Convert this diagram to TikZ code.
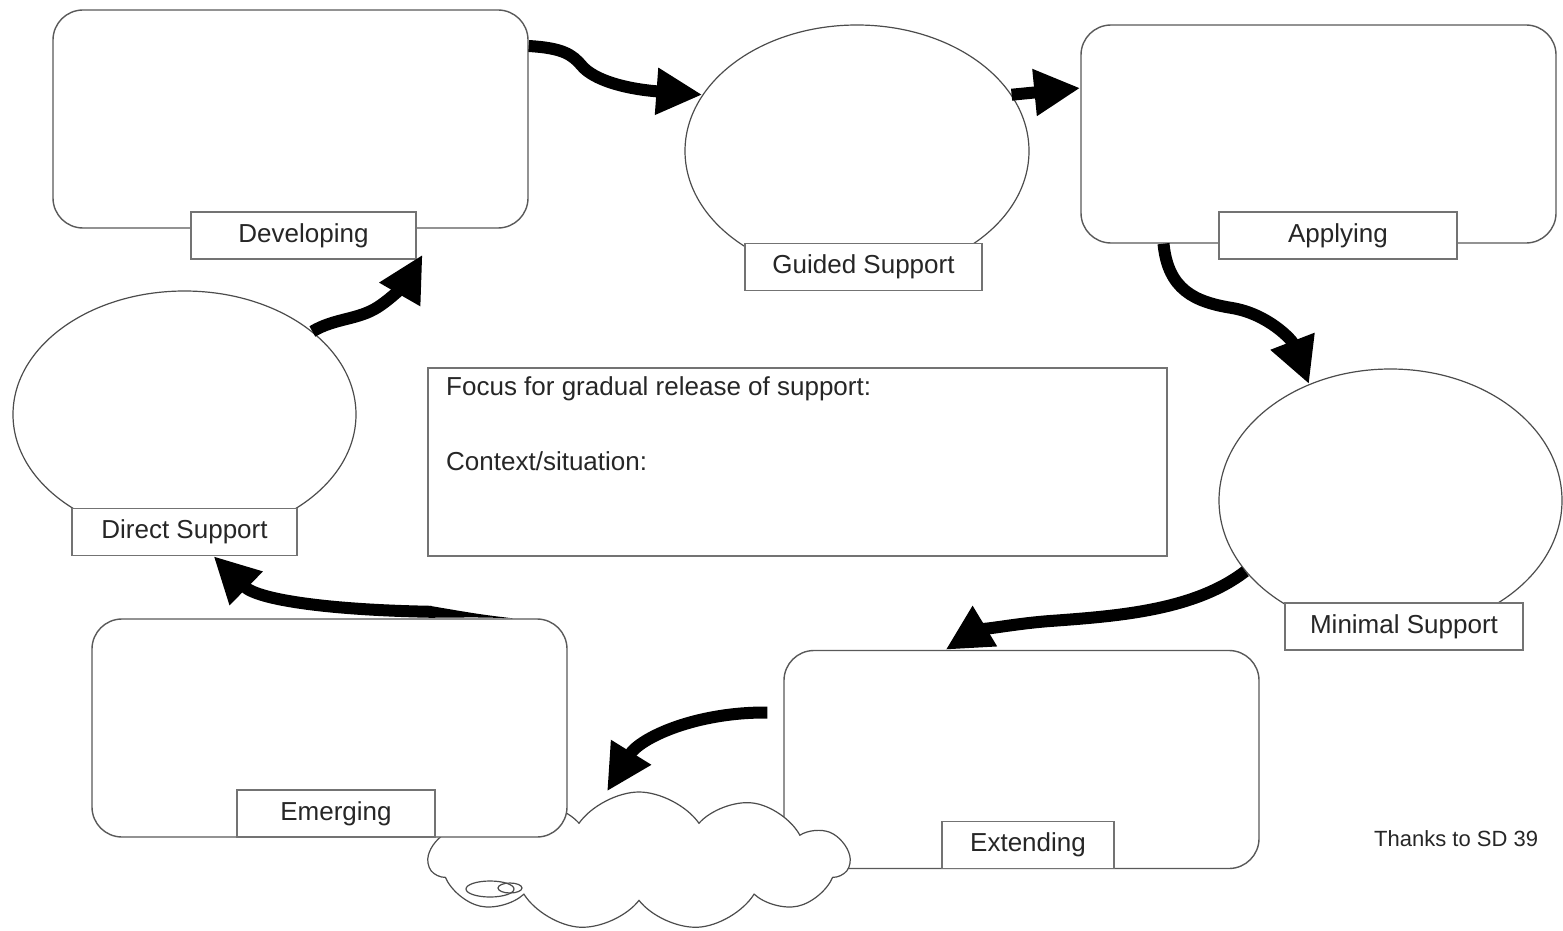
\documentclass[tikz,border=0pt]{standalone}
\usepackage{fontspec}
\setmainfont{Liberation Sans}
\usetikzlibrary{arrows.meta,shapes.geometric,shapes.symbols}
\begin{document}
\begin{tikzpicture}[x=1pt,y=-1pt,
  box/.style={draw=black!65,line width=1.4pt,fill=white,rounded corners=30pt,minimum width=475pt,minimum height=218pt,inner sep=0pt},
  tag/.style={draw=black!55,line width=1.2pt,fill=white,minimum height=47pt,inner sep=0pt,font=\fontsize{26}{30}\selectfont,text=black!85},
  bubble/.style={ellipse,draw=black!70,line width=1.2pt,fill=white,inner sep=0pt},
  flow/.style={line width=12pt,-{Triangle[length=46pt,width=44pt]}}]
\useasboundingbox (0,0) rectangle (1563,931);
\node[box] (extend) at (1021.5,759.5) {};
\node[cloud,cloud puffs=11,cloud puff arc=110,aspect=3,draw=black!70,line width=1.2pt,fill=white,minimum width=420pt,minimum height=138pt,inner sep=0pt] (cloud) at (639,861) {};
\draw[black!70,line width=1.2pt] (490,889) ellipse (24 and 8);
\draw[black!70,line width=1.2pt] (510,888) ellipse (12 and 5);
\node[box] (emerge) at (329.5,728) {};
\node[box] (dev) at (290.5,119) {};
\node[box] (apply) at (1318.5,134) {};
\node[bubble,minimum width=344pt,minimum height=252pt] (guided) at (857,151) {};
\node[bubble,minimum width=343pt,minimum height=247pt] (direct) at (184.5,414.5) {};
\node[bubble,minimum width=343pt,minimum height=263pt] (minimal) at (1390.5,500.5) {};
% labels
\node[tag,minimum width=225pt] (devlbl) at (303.5,235.5) {Developing};
\node[tag,minimum width=237pt] (guidedlbl) at (863.5,267) {Guided Support};
\node[tag,minimum width=238pt] (applylbl) at (1338,235.5) {Applying};
\node[tag,minimum width=225pt] (directlbl) at (184.5,532) {Direct Support};
\node[tag,minimum width=238pt] (minimallbl) at (1404,626.5) {Minimal Support};
\node[tag,minimum width=198pt] (emergelbl) at (336,813.5) {Emerging};
\node[tag,minimum width=172pt] (extendlbl) at (1028,845) {Extending};
% middle box
\node[draw=black!55,line width=1.2pt,minimum width=739pt,minimum height=188pt,inner sep=0pt] (focus) at (797.5,462) {};
\node[anchor=west,inner sep=0pt,font=\fontsize{26}{30}\selectfont,text=black!85] (focustxt) at (446,389) {Focus for gradual release of support:};
\node[anchor=west,inner sep=0pt,font=\fontsize{26}{30}\selectfont,text=black!85] (contexttxt) at (446,461) {Context/situation:};
\node[anchor=west,inner sep=0pt,font=\fontsize{22}{26}\selectfont,text=black!85] (thanks) at (1374,839) {Thanks to SD 39};
% arrows
\draw[flow] ([yshift=73pt]dev.east) .. controls (562,48) and (572,54) .. (582,66) .. controls (594,80) and (625,89) .. (guided.160);
\draw[flow] (guided.20) -- ([yshift=46pt]apply.west);
\draw[flow] ([xshift=-155pt]apply.south) .. controls (1168,290) and (1195,302) .. (1232,308) .. controls (1268,314) and (1292,340) .. (minimal.125);
\draw[flow] (minimal.206) .. controls (1195,610) and (1120,616) .. (1050,621) .. controls (1010,624) and (975,632) .. ([xshift=-76pt]extend.north);
\draw[flow] ([xshift=-16pt,yshift=47pt]extend.west) .. controls (695,712) and (640,738) .. ([xshift=-32pt]cloud.north);
\fill ([xshift=183pt]emerge.north) .. controls ([xshift=150pt,yshift=4pt]emerge.north) .. ([xshift=100pt,yshift=12.5pt]emerge.north) -- ([xshift=100pt,yshift=0.5pt]emerge.north) .. controls ([xshift=150pt,yshift=1pt]emerge.north) .. ([xshift=183pt]emerge.north) -- cycle;
\draw[flow] ([xshift=102pt,yshift=6.5pt]emerge.north) .. controls (330,610) and (258,600) .. ([xshift=29pt]directlbl.south);
\draw[flow] (direct.33) .. controls (335,318) and (358,320) .. (378,307) .. controls (395,296) and (408,280) .. ([xshift=6pt,yshift=5pt]devlbl.south east);
\end{tikzpicture}
\end{document}
